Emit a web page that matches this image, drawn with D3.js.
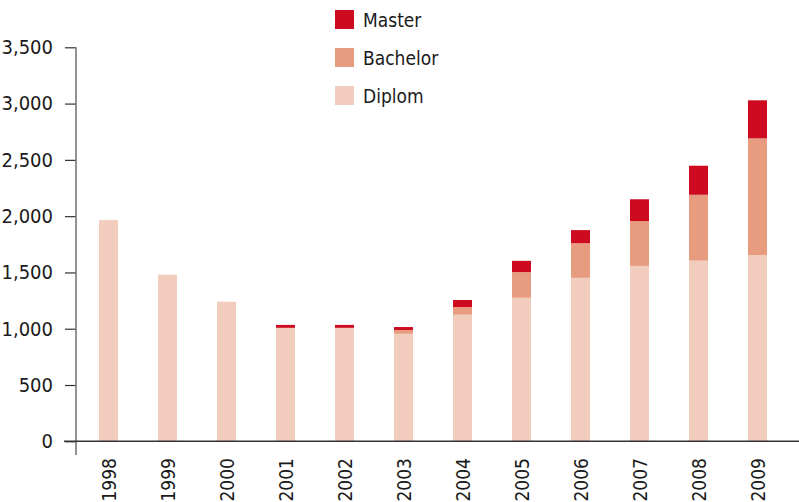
<!DOCTYPE html>
<html><head><meta charset="utf-8">
<script src="https://cdn.jsdelivr.net/npm/d3@7"></script>
<style>
html,body{margin:0;padding:0;background:#fff;}
svg{display:block;}
text{font-family:"DejaVu Sans Condensed","Liberation Sans Narrow",sans-serif;font-stretch:condensed;fill:#1a1a1a;}
</style></head>
<body>
<svg id="chart" width="799" height="502"></svg>
<script>
const years = ["1998","1999","2000","2001","2002","2003","2004","2005","2006","2007","2008","2009"];
const diplom   = [1965,1480,1240,1008,1008,955,1125,1275,1452,1558,1605,1655];
const bachelor = [0,0,0,0,0,34,68,228,308,398,585,1036];
const master   = [0,0,0,26,26,26,62,100,116,194,258,338];
const seriesNames = ["Diplom","Bachelor","Master"];
const colors = {Diplom:"#f2cdbd", Bachelor:"#e79c80", Master:"#cd0a20"};
const yTicks = [0,500,1000,1500,2000,2500,3000,3500];

const svg = d3.select("#chart");
const x = d3.scaleBand().domain(years).range([79,787]).paddingInner(0.678).paddingOuter(0.339);
const y = d3.scaleLinear().domain([0,3500]).range([441.3,47.3]);

const rows = years.map((yr,i)=>({year:yr, Diplom:diplom[i], Bachelor:bachelor[i], Master:master[i]}));
const stacked = d3.stack().keys(seriesNames)(rows);

svg.append("g").selectAll("g").data(stacked).join("g")
  .attr("fill", d=>colors[d.key])
  .selectAll("rect").data(d=>d).join("rect")
  .attr("x", d=>x(d.data.year))
  .attr("width", x.bandwidth())
  .attr("y", d=>y(d[1]))
  .attr("height", d=>Math.max(0, y(d[0])-y(d[1])));

// y axis
const fmt = d3.format(",");
const ya = svg.append("g").attr("transform","translate(76,0)")
  .call(d3.axisLeft(y).tickValues(yTicks).tickSize(11).tickPadding(12).tickFormat(fmt));
ya.select(".domain").remove();
ya.selectAll(".tick line").attr("stroke","#333").attr("stroke-width",1.2);
ya.selectAll(".tick text").attr("font-size",20).attr("fill","#1a1a1a")
  .style("font-family","'DejaVu Sans Condensed','Liberation Sans Narrow',sans-serif")
  .style("font-stretch","condensed");
svg.append("line").attr("x1",76).attr("x2",76).attr("y1",y(3500)).attr("y2",455)
  .attr("stroke","#777").attr("stroke-width",1.6);

// x axis
svg.append("line").attr("x1",64).attr("x2",799).attr("y1",y(0)).attr("y2",y(0))
  .attr("stroke","#333").attr("stroke-width",1.6);
svg.append("g").selectAll("text").data(years).join("text")
  .attr("transform", d=>`translate(${x(d)+x.bandwidth()/2+7},458) rotate(-90)`)
  .attr("text-anchor","end")
  .attr("font-size",19)
  .text(d=>d);

// legend
const legendOrder = ["Master","Bachelor","Diplom"];
const lg = svg.append("g").selectAll("g").data(legendOrder).join("g")
  .attr("transform",(d,i)=>`translate(335,${10+i*38})`);
lg.append("rect").attr("width",19).attr("height",19).attr("fill",d=>colors[d]);
lg.append("text").attr("x",28).attr("y",17).attr("font-size",19).text(d=>d);
</script>
</body></html>
